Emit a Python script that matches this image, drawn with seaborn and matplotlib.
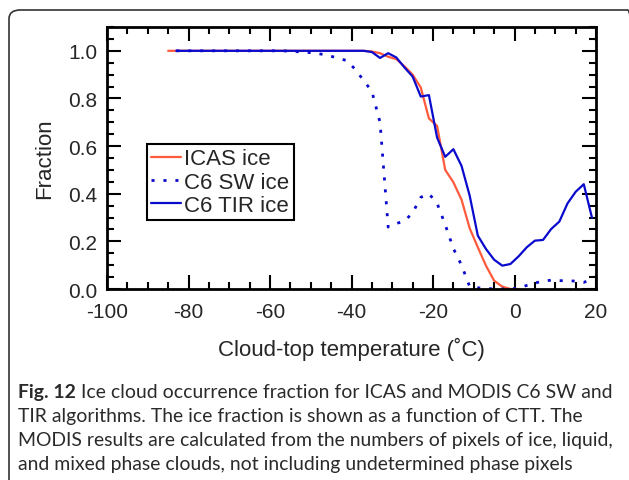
import matplotlib
matplotlib.use("Agg")
import matplotlib.pyplot as plt
from matplotlib.patches import FancyBboxPatch
from matplotlib.ticker import MultipleLocator
import numpy as np
import pandas as pd
import seaborn as sns

# Ice fraction vs cloud-top temperature (deg C), 2-degree bins
icas_temp = list(range(-85, 2, 2))
icas_frac = [1.0] * 25 + [0.997, 0.99, 0.975, 0.965, 0.935, 0.90, 0.846, 0.716,
                          0.685, 0.50, 0.448, 0.375, 0.255, 0.175, 0.098, 0.035,
                          0.01, 0.0, 0.0]

sw_temp = list(range(-83, 20, 2))
sw_frac = [1.0] * 14 + [0.998, 0.996, 0.994, 0.99, 0.985, 0.977, 0.968, 0.958,
                        0.92, 0.875, 0.83, 0.70, 0.26, 0.275, 0.285, 0.32, 0.385,
                        0.40, 0.36, 0.27, 0.17, 0.10, 0.01, 0.005, 0.003, 0.0, 0.0,
                        0.0, 0.004, 0.015, 0.025, 0.033, 0.037, 0.035, 0.035, 0.033,
                        0.028, 0.04]

tir_temp = list(range(-83, 20, 2))
tir_frac = [1.0] * 24 + [0.995, 0.97, 0.99, 0.972, 0.93, 0.892, 0.808, 0.814,
                         0.636, 0.555, 0.587, 0.517, 0.392, 0.224, 0.168, 0.123,
                         0.098, 0.105, 0.137, 0.175, 0.203, 0.206, 0.252, 0.283,
                         0.359, 0.408, 0.44, 0.30]

series_names = ["ICAS ice", "C6 SW ice", "C6 TIR ice"]

caption_bold = "Fig. 12"
caption_lines = [
    " Ice cloud occurrence fraction for ICAS and MODIS C6 SW and",
    "TIR algorithms. The ice fraction is shown as a function of CTT. The",
    "MODIS results are calculated from the numbers of pixels of ice, liquid,",
    "and mixed phase clouds, not including undetermined phase pixels",
]

sns.set_style("ticks")
plt.rcParams["font.family"] = ["Liberation Sans", "DejaVu Sans"]
plt.rcParams["axes.unicode_minus"] = False

W, H = 629, 481
fig = plt.figure(figsize=(W / 100, H / 100), dpi=100)

# rounded frame around the figure panel
frame = FancyBboxPatch((9 / W, -0.05), (W + 10 - 9) / W, (H - 11) / H + 0.05,
                       boxstyle="round,pad=0,rounding_size=0.018",
                       transform=fig.transFigure, fill=False,
                       edgecolor="#333333", linewidth=1.2)
fig.patches.append(frame)

L, R, T, B = 107, 596, 28, 290
ax = fig.add_axes([L / W, 1 - B / H, (R - L) / W, (B - T) / H])

red = "#FF5A3C"
blue = "#0A0ACD"
sns.lineplot(x=icas_temp, y=icas_frac, ax=ax, color=red, linewidth=1.6,
             label=series_names[0])
sns.lineplot(x=sw_temp, y=sw_frac, ax=ax, color=blue, linewidth=2.0,
             linestyle=(0, (1.1, 3.2)), label=series_names[1])
sns.lineplot(x=tir_temp, y=tir_frac, ax=ax, color=blue, linewidth=1.6,
             label=series_names[2])

ax.set_xlim(-100, 20)
ax.set_ylim(0, 1.1)
ax.xaxis.set_major_locator(MultipleLocator(20))
ax.xaxis.set_minor_locator(MultipleLocator(5))
ax.yaxis.set_minor_locator(MultipleLocator(0.05))
ax.set_yticks([0, 0.2, 0.4, 0.6, 0.8, 1.0])
ax.set_yticklabels(["0.0", "0.2", "0.4", "0.6", "0.8", "1.0"])
ax.tick_params(which="both", direction="in", top=True, right=True,
               width=1.5, color="black", labelsize=15)
ax.tick_params(which="major", length=10)
ax.tick_params(which="minor", length=5)
ax.tick_params(axis="x", which="major", pad=9)
ax.tick_params(axis="y", which="major", pad=7)
for s in ax.spines.values():
    s.set_linewidth(2.0)
    s.set_color("black")

ax.set_xlabel("Cloud-top temperature (\u02daC)", fontsize=16, labelpad=12)
ax.set_ylabel("Fraction", fontsize=16, labelpad=9)

leg = ax.legend(loc="upper left", bbox_to_anchor=(147 / W, 1 - 145 / H),
                bbox_transform=fig.transFigure, fontsize=16, frameon=True,
                fancybox=False, framealpha=1, edgecolor="black",
                handlelength=1.35, handletextpad=0.13, labelspacing=0.1,
                borderpad=0.2, borderaxespad=0)
leg.get_frame().set_linewidth(1.5)

# caption: bold lead followed by regular text, sized to span the panel width
cap_font = ["Lato", "DejaVu Sans"]
x0 = 18 / W
y_base = [398, 422, 446, 470]
line_width_px = 594
renderer = fig.canvas.get_renderer()
probe_bold = fig.text(0, 0, caption_bold, fontsize=10, fontweight="bold", family=cap_font)
probe_rest = fig.text(0, 0, caption_lines[0], fontsize=10, family=cap_font)
w10 = (probe_bold.get_window_extent(renderer).width
       + probe_rest.get_window_extent(renderer).width)
probe_bold.remove()
probe_rest.remove()
cap_size = 10 * line_width_px / w10

t_bold = fig.text(x0, 1 - y_base[0] / H, caption_bold, fontsize=cap_size,
                  fontweight="bold", family=cap_font, va="baseline", color="#2a2a2a")
bb = t_bold.get_window_extent(renderer)
fig.text(bb.x1 / W, 1 - y_base[0] / H, caption_lines[0], fontsize=cap_size,
         family=cap_font, va="baseline", color="#2a2a2a")
for yb, line in zip(y_base[1:], caption_lines[1:]):
    fig.text(x0, 1 - yb / H, line, fontsize=cap_size, family=cap_font,
             va="baseline", color="#2a2a2a")

fig.savefig("out.png", dpi=100)
